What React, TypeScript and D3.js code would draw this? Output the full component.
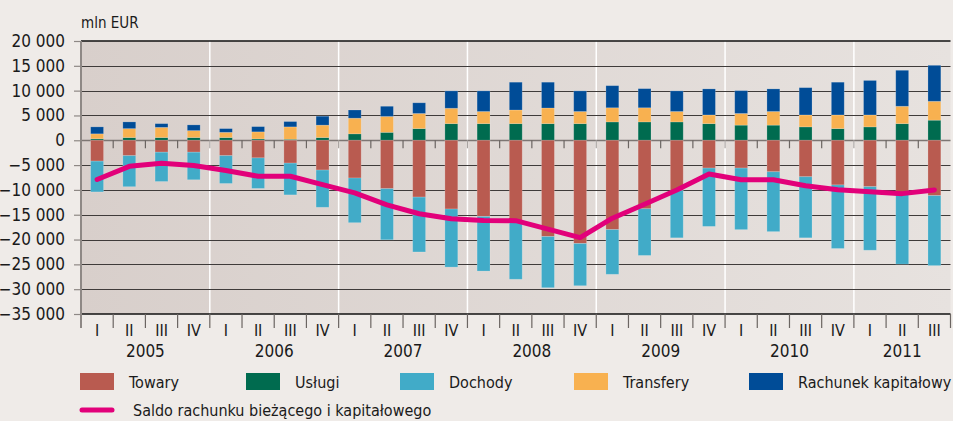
import { useEffect, useRef } from "react";
import * as d3 from "d3";

// mln EUR, quarterly 2005 Q1 – 2011 Q3
const quarters = [
  "I", "II", "III", "IV", "I", "II", "III", "IV", "I", "II", "III", "IV", "I", "II",
  "III", "IV", "I", "II", "III", "IV", "I", "II", "III", "IV", "I", "II", "III",
];
const years = ["2005", "2006", "2007", "2008", "2009", "2010", "2011"];

const towary = [-4200, -3100, -2400, -2400, -3100, -3550, -4600, -6000, -7600, -9750, -11450, -13850, -15350, -16150, -19400, -20800, -18000, -13800, -10100, -5600, -5600, -6350, -7350, -9000, -9350, -10950, -11150];
const dochody = [-6200, -6250, -5900, -5550, -5600, -6150, -6400, -7500, -9000, -10300, -11050, -11700, -11000, -11850, -10300, -8500, -9000, -9400, -9550, -11750, -12400, -12050, -12300, -12800, -12800, -14000, -14100];
const uslugi = [300, 550, 550, 550, 550, 270, 200, 550, 1300, 1600, 2350, 3350, 3350, 3350, 3350, 3350, 3700, 3700, 3700, 3350, 3050, 3050, 2700, 2350, 2700, 3350, 4050];
const transfery = [1000, 1800, 2050, 1400, 1050, 1430, 2500, 2500, 3150, 3200, 3050, 3100, 2450, 2750, 3150, 2450, 2850, 2850, 2100, 1750, 2350, 2750, 2400, 2750, 2400, 3500, 3800];
const rachunek = [1400, 1350, 750, 1150, 750, 1050, 1070, 1800, 1650, 2050, 2150, 3500, 4150, 5600, 5200, 4150, 4450, 3850, 4150, 5250, 4600, 4550, 5500, 6600, 6950, 7250, 7250];
const saldo = [-7900, -5250, -4650, -5100, -6100, -7250, -7250, -8950, -10600, -13000, -14800, -15800, -16150, -16200, -17900, -19600, -15700, -12900, -10000, -6800, -7950, -7950, -9150, -9950, -10350, -10750, -10000];

const yTicks = [20000, 15000, 10000, 5000, 0, -5000, -10000, -15000, -20000, -25000, -30000, -35000];

const series = [
  { name: "Towary", color: "#b95b50" },
  { name: "Usługi", color: "#006b4f" },
  { name: "Dochody", color: "#41abc8" },
  { name: "Transfery", color: "#f8b150" },
  { name: "Rachunek kapitałowy", color: "#004c97" },
];
const lineName = "Saldo rachunku bieżącego i kapitałowego";
const lineColor = "#e2007a";

const FONT = "'Liberation Sans Narrow', 'DejaVu Sans Condensed', 'Arial Narrow', sans-serif";

export default function App() {
  const ref = useRef<SVGSVGElement | null>(null);

  useEffect(() => {
    document.body.style.margin = "0";
    if (!ref.current) return;
    const W = 953, H = 421;
    const left = 81, right = 950.5, top = 41, bottom = 314;

    const svg = d3.select(ref.current);
    svg.selectAll("*").remove();
    svg.attr("width", W).attr("height", H).style("font-family", FONT);

    svg.append("rect").attr("width", W).attr("height", H).attr("fill", "#efebe8");

    const defs = svg.append("defs");
    const grad = defs.append("linearGradient").attr("id", "plotbg").attr("x1", "0").attr("x2", "1").attr("y1", "0").attr("y2", "0");
    grad.append("stop").attr("offset", "0").attr("stop-color", "#d8cfcb");
    grad.append("stop").attr("offset", "1").attr("stop-color", "#e7e2df");

    const idx = quarters.map((_, i) => i);
    const x = d3.scaleBand<number>().domain(idx).range([left, right]).paddingInner(0.6).paddingOuter(0.3);
    const qx = d3.scaleLinear().domain([0, quarters.length]).range([left, right]);
    const y = d3.scaleLinear().domain([-35000, 20000]).range([bottom, top]);

    svg.append("rect").attr("x", left).attr("y", top).attr("width", right - left).attr("height", bottom - top).attr("fill", "url(#plotbg)");

    // year separators
    svg.append("g").selectAll("line").data(d3.range(1, years.length)).join("line")
      .attr("x1", (d) => qx(d * 4)).attr("x2", (d) => qx(d * 4))
      .attr("y1", top).attr("y2", bottom)
      .attr("stroke", "#ffffff").attr("stroke-width", 1.5);

    // gridlines
    svg.append("g").selectAll("line").data(yTicks.filter((d) => d !== 20000 && d !== -35000)).join("line")
      .attr("x1", left).attr("x2", right)
      .attr("y1", (d) => Math.round(y(d)) + 0.5).attr("y2", (d) => Math.round(y(d)) + 0.5)
      .attr("stroke", (d) => (d === 0 ? "#7d7673" : "#3f3b3a")).attr("stroke-width", (d) => (d === 0 ? 1.5 : 1));

    // ticks under zero line
    svg.append("g").selectAll("line").data(d3.range(1, quarters.length)).join("line")
      .attr("x1", (d) => qx(d)).attr("x2", (d) => qx(d))
      .attr("y1", y(0)).attr("y2", y(0) + 8)
      .attr("stroke", (d) => (d % 4 === 0 ? "#a9a3a0" : "#6b6562")).attr("stroke-width", 1.2);

    // stacked bars
    const stacks = idx.map((i) => {
      const r: { v0: number; v1: number; color: string }[] = [];
      let p = 0;
      [[uslugi, 1], [transfery, 3], [rachunek, 4]].forEach(([arr, s]) => {
        const v = (arr as number[])[i];
        r.push({ v0: p, v1: p + v, color: series[s as number].color });
        p += v;
      });
      let n = 0;
      [[towary, 0], [dochody, 2]].forEach(([arr, s]) => {
        const v = (arr as number[])[i];
        r.push({ v0: n, v1: n + v, color: series[s as number].color });
        n += v;
      });
      return { i, parts: r };
    });

    const bars = svg.append("g");
    stacks.forEach((st) => {
      bars.selectAll(null).data(st.parts).enter().append("rect")
        .attr("x", x(st.i)!)
        .attr("width", x.bandwidth())
        .attr("y", (d) => y(Math.max(d.v0, d.v1)))
        .attr("height", (d) => Math.abs(y(d.v0) - y(d.v1)))
        .attr("fill", (d) => d.color)
        .attr("stroke", "rgba(255,255,255,0.22)")
        .attr("stroke-width", 0.8);
    });

    // saldo line
    const line = d3.line<number>().x((d, i) => x(i)! + x.bandwidth() / 2).y((d) => y(d));
    svg.append("path").datum(saldo).attr("d", line)
      .attr("fill", "none").attr("stroke", lineColor).attr("stroke-width", 5)
      .attr("stroke-linejoin", "round").attr("stroke-linecap", "round");

    // frame: top and bottom black, left gray axis
    svg.append("line").attr("x1", left).attr("x2", right).attr("y1", top).attr("y2", top).attr("stroke", "#111").attr("stroke-width", 1.5);
    svg.append("line").attr("x1", left).attr("x2", right).attr("y1", bottom).attr("y2", bottom).attr("stroke", "#111").attr("stroke-width", 1.5);
    svg.append("line").attr("x1", left).attr("x2", left).attr("y1", top).attr("y2", bottom + 14).attr("stroke", "#8e8885").attr("stroke-width", 2);

    // y axis
    const ya = svg.append("g").attr("transform", `translate(${left},0)`)
      .call(d3.axisLeft(y).tickValues(yTicks).tickSize(7).tickPadding(9)
        .tickFormat((d) => d3.format(",")(d as number).replace(/,/g, " ")));
    ya.select(".domain").remove();
    ya.selectAll(".tick line").attr("stroke", "#8e8885").attr("stroke-width", 1.2);
    ya.selectAll(".tick text").attr("fill", "#1a1a1a").style("font-size", "17px").style("font-family", FONT);

    svg.append("text").attr("x", left).attr("y", 28).attr("fill", "#1a1a1a").style("font-size", "15px").text("mln EUR");

    // bottom quarter ticks
    svg.append("g").selectAll("line").data(d3.range(1, quarters.length + 1)).join("line")
      .attr("x1", (d) => qx(d)).attr("x2", (d) => qx(d))
      .attr("y1", bottom).attr("y2", bottom + 14)
      .attr("stroke", "#6b6562").attr("stroke-width", 1.2);

    svg.append("g").selectAll("text").data(quarters).join("text")
      .attr("x", (d, i) => x(i)! + x.bandwidth() / 2).attr("y", 336)
      .attr("text-anchor", "middle").attr("fill", "#1a1a1a").style("font-size", "16px")
      .text((d) => d);

    svg.append("g").selectAll("text").data(years).join("text")
      .attr("x", (d, i) => qx(Math.min(i * 4 + 2, (i * 4 + quarters.length) / 2))).attr("y", 357)
      .attr("text-anchor", "middle").attr("fill", "#1a1a1a").style("font-size", "17px")
      .text((d) => d);

    // legend
    const lx = [80, 246, 400, 574, 749];
    const lg = svg.append("g").selectAll("g").data(series).join("g")
      .attr("transform", (d, i) => `translate(${lx[i]},373)`);
    lg.append("rect").attr("width", 34).attr("height", 17).attr("fill", (d) => d.color);
    lg.append("text").attr("x", 49).attr("y", 15).attr("fill", "#1a1a1a").style("font-size", "16px").text((d) => d.name);

    svg.append("line").attr("x1", 82).attr("x2", 112).attr("y1", 410).attr("y2", 410)
      .attr("stroke", lineColor).attr("stroke-width", 5).attr("stroke-linecap", "round");
    svg.append("text").attr("x", 133).attr("y", 416).attr("fill", "#1a1a1a").style("font-size", "16px").text(lineName);
  }, []);

  return <svg ref={ref} style={{ display: "block" }} />;
}
